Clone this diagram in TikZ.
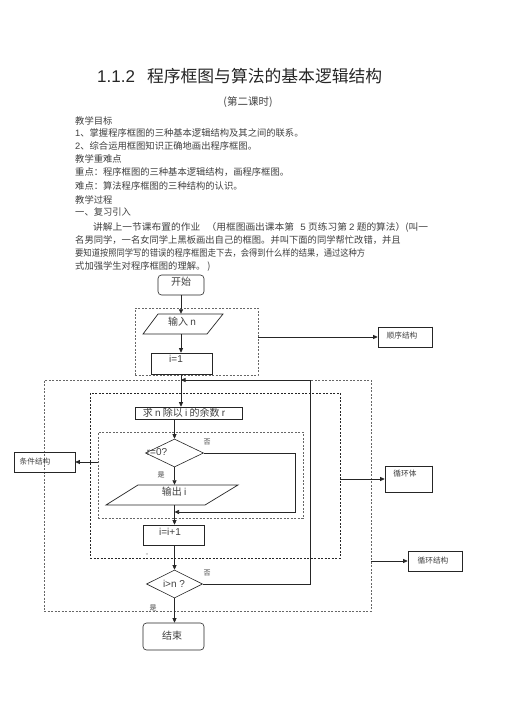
\documentclass[tikz,border=0pt]{standalone}
\usepackage{fontspec}
\usepackage{graphicx}
\setmainfont{Noto Sans CJK SC}
\newfontfamily\lat{Liberation Sans}
\usetikzlibrary{arrows.meta,shapes.geometric}
\definecolor{txt}{gray}{0.25}
\definecolor{ln}{gray}{0.15}
\newcommand\myfs[1]{\fontsize{#1}{#1}\selectfont}
\begin{document}
\begin{tikzpicture}[x=1pt,y=-1pt,
  bodyt/.style={anchor=west,inner sep=0,text=txt,font=\myfs{9.3}},
  ftxt/.style={inner sep=0,text=txt,font=\myfs{10}},
  lbl/.style={inner sep=0,text=txt,font=\myfs{7.7}},
  smlbl/.style={inner sep=0,text=txt,font=\myfs{7}},
  bx/.style={draw=ln,line width=0.6pt,inner sep=0,rectangle},
  rbx/.style={bx,rounded corners=3.5pt},
  hidn/.style={inner sep=0,rectangle},
  dia/.style={draw=ln,line width=0.6pt,diamond,inner sep=0},
  arrw/.style={draw=ln,line width=0.7pt,-{Triangle[length=4.5pt,width=4pt]}},
  flow/.style={draw=ln,line width=0.7pt},
  dsh/.style={draw=ln!70,line width=0.4pt,dash pattern=on 2pt off 1.5pt,inner sep=0,rectangle},
  dshb/.style={draw=ln,line width=0.8pt,dash pattern=on 2pt off 1.5pt,inner sep=0,rectangle},
  shl/.style={draw=ln,line width=1.1pt}
]
\fill[white] (0,0) rectangle (505,714);
\useasboundingbox (0,0) rectangle (505,714);

% ---------- title ----------
\node[anchor=west,inner sep=0,text=black!85] (title) at (97,76)
  {{\lat\myfs{17}1.1.2}\hspace{12pt}{\myfs{16.8}程序框图与算法的基本逻辑结构}};
\node[inner sep=0,text=txt,font=\myfs{10.5}] (sub) at (248,102) {(第二课时)};

% ---------- body text ----------
\node[bodyt] (t1) at (75,121) {教学目标};
\node[bodyt] (t2) at (75,133) {{\lat 1}、掌握程序框图的三种基本逻辑结构及其之间的联系。};
\node[bodyt] (t3) at (75,146) {{\lat 2}、综合运用框图知识正确地画出程序框图。};
\node[bodyt] (t4) at (75,159) {教学重难点};
\node[bodyt] (t5) at (75,172.5) {重点：程序框图的三种基本逻辑结构，画程序框图。};
\node[bodyt] (t6) at (75,186) {难点：算法程序框图的三种结构的认识。};
\node[bodyt] (t7) at (75,199.5) {教学过程};
\node[bodyt] (t8) at (75,212) {一、复习引入};
\node[bodyt] (t9) at (93,227) {\resizebox{335pt}{\height}{讲解上一节课布置的作业\hspace{6pt}（用框图画出课本第\hspace{6pt}{\lat 5} 页练习第 {\lat 2} 题的算法）(叫一}};
\node[bodyt] (t10) at (75,240.5) {名男同学，一名女同学上黑板画出自己的框图。并叫下面的同学帮忙改错，并且};
\node[bodyt] (t11) at (75,253) {\resizebox{290pt}{\height}{要知道按照同学写的错误的程序框图走下去，会得到什么样的结果，通过这种方}};
\node[bodyt] (t12) at (75,266) {式加强学生对程序框图的理解。 )};

% ---------- dashed structure boxes ----------
\node[dsh,minimum width=123,minimum height=67] (seq) at (196.5,341.5) {};
\node[dsh,minimum width=327,minimum height=231] (outer) at (207.5,495.5) {};
\node[dshb,minimum width=250,minimum height=165] (body) at (215,475.5) {};
\node[dsh,minimum width=205,minimum height=86] (cond) at (200.5,475) {};

% ---------- flow nodes ----------
\node[rbx,minimum width=46,minimum height=20] (start) at (181,285) {};
\node[ftxt] (startt) at (181,282) {开始};

\node[hidn,minimum width=65,minimum height=20] (in) at (183,324) {};
\draw[flow] (158,314) -- (223,314) -- (207,334) -- (143,334) -- cycle;
\node[ftxt] (int) at (182,322) {输入 {\lat n}};

\node[bx,minimum width=61,minimum height=21] (i1) at (181.5,363.5) {};
\node[ftxt] (i1t) at (176,359) {\lat i=1};

\node[bx,minimum width=107,minimum height=12] (calc) at (188.5,413) {};
\node[ftxt] (calct) at (184,413) {求 {\lat n} 除以 {\lat i} 的余数 {\lat r}};

\node[dia,minimum width=58,minimum height=28] (d1) at (174.5,453) {};
\node[ftxt] (d1t) at (157,452) {\lat r=0?};

\node[hidn,minimum width=100,minimum height=20] (out) at (172,495) {};
\draw[flow] (138,485) -- (238,485) -- (205,505) -- (106,505) -- cycle;
\node[ftxt] (outt) at (174,492) {输出 {\lat i}};

\node[bx,minimum width=61,minimum height=20] (inc) at (173.5,535) {};
\node[ftxt] (inct) at (170,532) {\lat i=i+1};

\node[dia,minimum width=56,minimum height=28] (d2) at (174.5,584) {};
\node[ftxt] (d2t) at (174,584) {\lat i>n ?};

\node[rbx,minimum width=61,minimum height=27] (end) at (173.5,636.5) {};
\node[ftxt] (endt) at (172,636) {结束};

% ---------- side labels ----------
\node[bx,minimum width=54,minimum height=20] (lseq) at (405,337) {};
\node[lbl] (lseqt) at (402,336) {顺序结构};
\draw[shl] ([xshift=0.4pt]lseq.north east) -- ([xshift=0.4pt]lseq.south east);

\node[bx,minimum width=47,minimum height=26] (lbody) at (408.5,479) {};
\node[lbl] (lbodyt) at (405,474) {循环体};
\draw[shl] ([xshift=0.4pt]lbody.north east) -- ([xshift=0.4pt,yshift=-0.4pt]lbody.south east) -- ([yshift=-0.4pt]lbody.south west);

\node[bx,minimum width=61,minimum height=20] (lcond) at (44.5,462) {};
\node[lbl] (lcondt) at (35,462) {条件结构};

\node[bx,minimum width=54,minimum height=20] (lloop) at (435,561) {};
\node[lbl] (lloopt) at (433,561) {循环结构};
\draw[shl] ([xshift=0.4pt]lloop.north east) -- ([xshift=0.4pt]lloop.south east);

% ---------- small labels ----------
\node[smlbl] (no1) at (207,442) {否};
\node[smlbl] (yes1) at (161,475) {是};
\node[smlbl] (no2) at (207,573) {否};
\node[smlbl] (yes2) at (153,608) {是};
\node[inner sep=0,text=txt,font=\myfs{5}] (mark) at (147,555) {\lat ,,};

% ---------- connectors ----------
\coordinate (lb) at (310,380);
\coordinate (m1) at (295,512);
\draw[arrw] (start.south) -- (start.south |- in.north);
\draw[arrw] (start.south |- in.south) -- (start.south |- i1.north);
\draw[arrw] (start.south |- i1.south) -- (start.south |- calc.north);
\draw[arrw] (d2.east) -- (d2.east -| lb) -- (lb) -- (lb -| start.south);
\draw[arrw] (d1.north |- calc.south) -- (d1.north);
\draw[arrw] (d1.south) -- (d1.south |- out.north);
\draw[arrw] (d1.south |- out.south) -- (d1.south |- inc.north);
\draw[arrw] (d1.east) -- (d1.east -| m1) -- (m1) -- (m1 -| d1.south);
\draw[arrw] (d2.north |- inc.south) -- (d2.north);
\draw[arrw] (d2.south) -- (d2.south |- end.north);

\draw[arrw] (seq.east |- lseq.west) -- (lseq.west);
\draw[arrw] (body.east |- lbody.west) -- (lbody.west);
\draw[arrw] (cond.west |- lcond.east) -- (lcond.east);
\draw[arrw] (outer.east |- lloop.west) -- (lloop.west);
\end{tikzpicture}
\end{document}
